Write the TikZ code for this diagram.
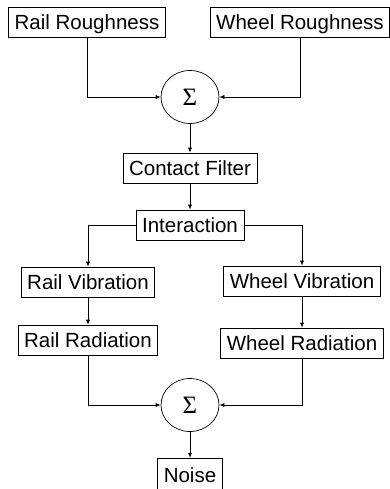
\documentclass[tikz,border=0pt]{standalone}
\usepackage{fontspec}
\setmainfont{Liberation Sans}
\newfontfamily\sumfont{Liberation Serif}
\usetikzlibrary{shapes.geometric, arrows.meta, positioning}

\begin{document}
\begin{tikzpicture}[x=1pt, y=-1pt,
  block/.style={rectangle, draw, line width=0.7pt, inner xsep=6pt, inner ysep=0pt,
                minimum height=30pt, text height=15pt, text depth=0pt,
                font=\fontsize{20.5}{22}\selectfont},
  sumnode/.style={ellipse, draw, line width=0.7pt, minimum width=58pt,
                minimum height=53pt, inner sep=0pt,
                font=\sumfont\fontsize{25}{25}\selectfont},
  flow/.style={draw, line width=0.7pt, -{Latex[length=5pt, width=4pt]}}]
\useasboundingbox (0,0) rectangle (390,489);

% inputs
\node[block] (railrough)  at (87,22)  {Rail Roughness};
\node[block] (wheelrough) at (300,22) {Wheel Roughness};
\node[sumnode] (sumtop) at (190,97) {Σ};

% contact
\node[block] (contact) at (190,168) {Contact Filter};
\node[block] (interact) at (190,225) {Interaction};

% two branches
\node[block] (railvib)  at (88,282)  {Rail Vibration};
\node[block] (wheelvib) at (302,281) {Wheel Vibration};
\node[block] (railrad)  at (88,340)  {Rail Radiation};
\node[block] (wheelrad) at (302,343) {Wheel Radiation};

% output
\node[sumnode] (sumbot) at (190,405) {Σ};
\node[block, minimum height=34pt, below=26pt of sumbot] (noise) {Noise};

\draw[flow] (railrough.south) |- (sumtop.west);
\draw[flow] (wheelrough.south) |- (sumtop.east);
\draw[flow] (sumtop) -- (contact);
\draw[flow] (contact) -- (interact);
\draw[flow] (interact.west) -| (railvib.north);
\draw[flow] (interact.east) -| (wheelvib.north);
\draw[flow] (railvib) -- (railrad);
\draw[flow] (wheelvib) -- (wheelrad);
\draw[flow] (railrad.south) |- (sumbot.west);
\draw[flow] (wheelrad.south) |- (sumbot.east);
\draw[flow] (sumbot) -- (noise);
\end{tikzpicture}
\end{document}
